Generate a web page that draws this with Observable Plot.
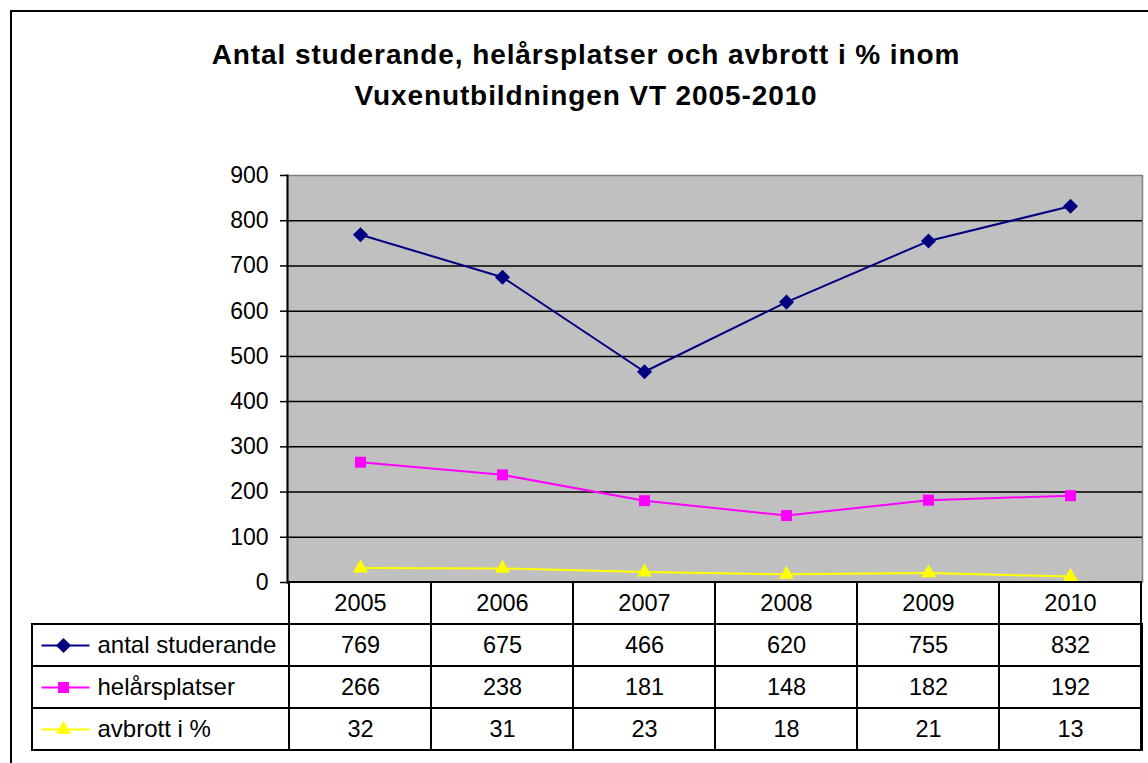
<!DOCTYPE html>
<html>
<head>
<meta charset="utf-8">
<script src="https://cdn.jsdelivr.net/npm/d3@7"></script>
<script src="https://cdn.jsdelivr.net/npm/@observablehq/plot@0.6"></script>
<style>
  html, body { margin: 0; padding: 0; background: #fff; overflow: hidden; }
  body { width: 1148px; height: 763px; position: relative; overflow: hidden;
         font-family: "Liberation Sans", Arial, sans-serif; color: #000; }
  #frame { position: absolute; left: 10px; top: 10px; width: 1200px; height: 800px;
           border: 2px solid #000; box-sizing: border-box; }
  #title { position: absolute; left: 0; top: 34px; width: 1172px; text-align: center;
           font-weight: bold; font-size: 28px; line-height: 41px; letter-spacing: 0.9px; }
  #chart { position: absolute; left: 0; top: 140px; }
  #table { position: absolute; left: 0; top: 580px; }
</style>
</head>
<body>
<div id="frame"></div>
<div id="title">Antal studerande, helårsplatser och avbrott i % inom<br>Vuxenutbildningen VT 2005-2010</div>
<div id="chart"></div>
<div id="table"></div>
<script>
// ---- data ----
const years = ["2005", "2006", "2007", "2008", "2009", "2010"];
const antalStuderande = [769, 675, 466, 620, 755, 832];
const helarsplatser = [266, 238, 181, 148, 182, 192];
const avbrottProcent = [32, 31, 23, 18, 21, 13];
const seriesNames = ["antal studerande", "helårsplatser", "avbrott i %"];
const seriesValues = [antalStuderande, helarsplatser, avbrottProcent];
const seriesColors = ["#000080", "#FF00FF", "#FFFF00"];
const seriesSymbols = ["diamond2", "square", "triangle"];
const seriesMarkerR = [6.8, 6.2, 5.6];
const yTicks = [0, 100, 200, 300, 400, 500, 600, 700, 800, 900];
const headerRow = "år";

const font = "'Liberation Sans', Arial, sans-serif";

// long-format table built from the arrays
const long = [];
seriesNames.forEach((s, si) => years.forEach((y, i) => long.push({series: s, si, year: y, value: seriesValues[si][i]})));

// ---- main chart ----
const marks = [
  Plot.frame({fill: "#C0C0C0", stroke: "#808080", strokeWidth: 1.5}),
  Plot.ruleY(yTicks.filter(t => t > 0 && t < 900), {stroke: "#000", strokeWidth: 1.5}),
  Plot.ruleY([0], {stroke: "#000", strokeWidth: 2}),
  Plot.frame({anchor: "left", stroke: "#000", strokeWidth: 2}),
  Plot.axisY({ticks: yTicks, tickSize: 7, tickPadding: 12, fontSize: 23, label: null, tickFormat: d => String(d), strokeWidth: 1.5})
];
seriesNames.forEach((s, si) => {
  const d = long.filter(r => r.si === si);
  marks.push(Plot.line(d, {x: "year", y: "value", stroke: seriesColors[si], strokeWidth: 2}));
  marks.push(Plot.dot(d, {x: "year", y: "value", symbol: seriesSymbols[si], r: seriesMarkerR[si], fill: seriesColors[si], stroke: "none"}));
});

const chart = Plot.plot({
  width: 1148,
  height: 470,
  marginTop: 35,
  marginBottom: 28,
  marginLeft: 287,
  marginRight: 6,
  style: {fontFamily: font, color: "#000", background: "transparent"},
  x: {type: "point", domain: years, padding: 0.5, axis: null},
  y: {domain: [0, 900], axis: null},
  marks
});
document.getElementById("chart").append(chart);

// ---- data table ----
const rowKeys = [headerRow, ...seriesNames];
const headerCells = years.map(y => ({row: headerRow, year: y, text: y}));
const valueCells = long.map(r => ({row: r.series, year: r.year, text: String(r.value)}));
const allCells = [...headerCells, ...valueCells];

const hline = {draw(context) { context.moveTo(-24, 0); context.lineTo(24, 0); }};

const legendMarks = [];
seriesNames.forEach((s, si) => {
  legendMarks.push(Plot.dot([s], {y: d => d, frameAnchor: "left", dx: 33, symbol: hline, stroke: seriesColors[si], strokeWidth: 2, fill: "none"}));
  legendMarks.push(Plot.dot([s], {y: d => d, frameAnchor: "left", dx: 31, symbol: seriesSymbols[si], r: seriesMarkerR[si], fill: seriesColors[si], stroke: "none"}));
});

const table = Plot.plot({
  width: 1148,
  height: 172,
  marginTop: 2,
  marginBottom: 2,
  marginLeft: 32,
  marginRight: 6,
  style: {fontFamily: font, color: "#000", background: "transparent"},
  x: {type: "band", domain: years, range: [287, 1142], padding: 0, axis: null},
  y: {type: "band", domain: rowKeys, padding: 0, axis: null},
  marks: [
    Plot.cell(seriesNames, {y: d => d, fill: "#fff", stroke: "#000", strokeWidth: 2, inset: 0}),
    Plot.cell(allCells, {x: "year", y: "row", fill: "#fff", stroke: "#000", strokeWidth: 2, inset: 0}),
    Plot.text(allCells, {x: "year", y: "row", text: "text", fontSize: 23.5}),
    ...legendMarks,
    Plot.text(seriesNames, {y: d => d, frameAnchor: "left", dx: 65, textAnchor: "start", text: d => d, fontSize: 24, letterSpacing: 0.3})
  ]
});
document.getElementById("table").append(table);
</script>
</body>
</html>
